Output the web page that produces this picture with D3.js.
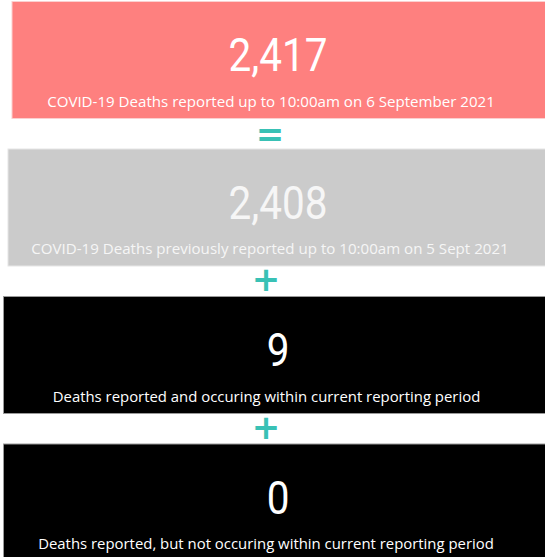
<!DOCTYPE html>
<html><head><meta charset="utf-8">
<script src="https://cdn.jsdelivr.net/npm/d3@7"></script>
<style>html,body{margin:0;padding:0;background:#fff;overflow:hidden}</style>
</head><body>
<svg id="chart" width="545" height="557"></svg>
<script>
const values = [2417, 2408, 9, 0];
const labels = [
  "COVID-19 Deaths reported up to 10:00am on 6 September 2021",
  "COVID-19 Deaths previously reported up to 10:00am on 5 Sept 2021",
  "Deaths reported and occuring within current reporting period",
  "Deaths reported, but not occuring within current reporting period"
];
const operators = ["=", "+", "+"];

const fills = ["#fe807f", "#cbcbcb", "#000000", "#000000"];
const strokes = ["#fbd0d0", "#e6e6e6", "#9a9a9a", "#9a9a9a"];
const textFills = ["#ffffff", "#f6f6f6", "#ffffff", "#ffffff"];
const lefts = [12, 8, 3.5, 3.5];
const labelCx = [271, 270, 266.5, 266];
const labelSize = [15.1, 15.1, 14.9, 14.9];

const W = 545, H = 557;
const svg = d3.select("#chart");
const y = d3.scaleLinear().domain([0, 3]).range([1.5, 444]);
const boxH = 117;
const fmt = d3.format(",");
const cx = 271;

const cards = svg.selectAll("g.card").data(values).join("g").attr("class", "card")
  .attr("transform", (d, i) => `translate(0,${y(i)})`);

cards.append("rect")
  .attr("x", (d, i) => lefts[i]).attr("y", 0)
  .attr("width", (d, i) => W + 5 - lefts[i]).attr("height", boxH)
  .attr("fill", (d, i) => fills[i])
  .attr("stroke", (d, i) => strokes[i]).attr("stroke-width", 1);

cards.append("text")
  .attr("transform", `translate(${cx + 7},69.5) scale(0.88,1)`)
  .attr("text-anchor", "middle")
  .attr("font-family", "Roboto, 'DejaVu Sans', sans-serif")
  .attr("font-size", 46)
  .attr("fill", (d, i) => textFills[i])
  .text(d => fmt(d));

cards.append("text")
  .attr("x", (d, i) => labelCx[i]).attr("y", 105)
  .attr("text-anchor", "middle")
  .attr("font-family", "'Open Sans', 'Noto Sans', sans-serif")
  .attr("font-size", (d, i) => labelSize[i])
  .attr("fill", (d, i) => textFills[i])
  .text((d, i) => labels[i]);

svg.selectAll("text.op").data(operators).join("text").attr("class", "op")
  .attr("x", (d, i) => i === 0 ? 270 : 266)
  .attr("y", (d, i) => (y(i) + boxH + y(i + 1)) / 2 + (d === "=" ? 12 : 10))
  .attr("text-anchor", "middle")
  .attr("font-family", "'DejaVu Sans', sans-serif")
  .attr("font-weight", "bold")
  .attr("font-size", 34)
  .attr("fill", "#39c1b5")
  .text(d => d);
</script>
</body></html>
